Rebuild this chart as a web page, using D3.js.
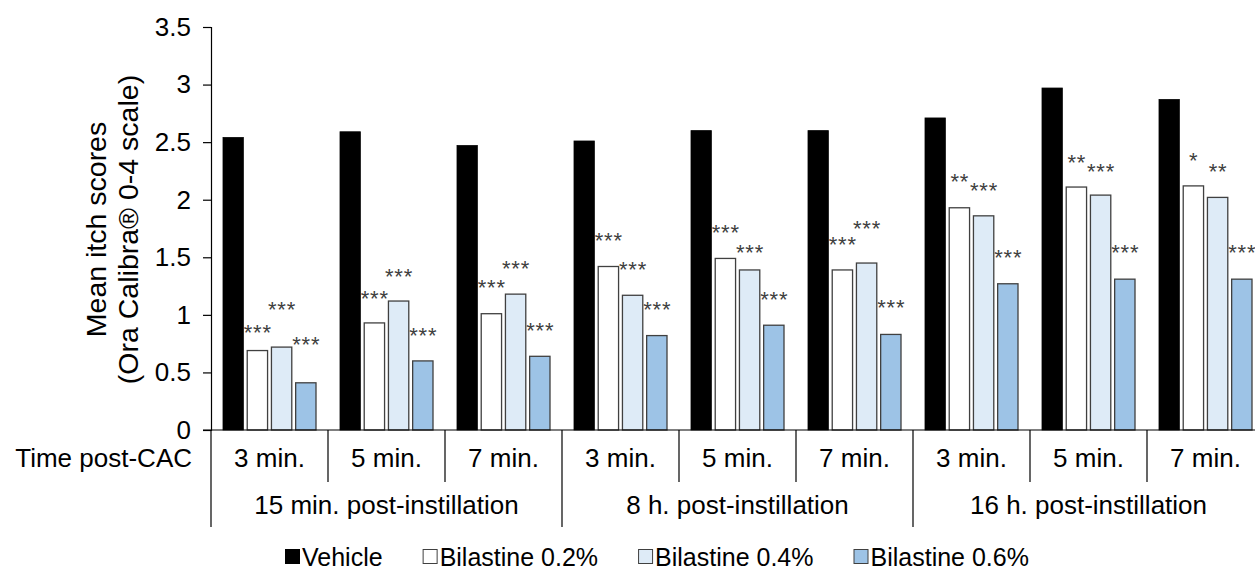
<!DOCTYPE html>
<meta charset="utf-8">
<script src="https://d3js.org/d3.v7.min.js"></script>
<style>
  body { margin: 0; background: #fff; }
  text { font-family: "Liberation Sans", Arial, sans-serif; }
</style>
<div id="chart"></div>
<script>
// ---- data ----
const categories = ["3 min.", "5 min.", "7 min.", "3 min.", "5 min.", "7 min.", "3 min.", "5 min.", "7 min."];
const groups = ["15 min. post-instillation", "8 h. post-instillation", "16 h. post-instillation"];
const seriesNames = ["Vehicle", "Bilastine 0.2%", "Bilastine 0.4%", "Bilastine 0.6%"];

const vehicle = [2.54, 2.59, 2.47, 2.51, 2.60, 2.60, 2.71, 2.97, 2.87];
const bil02 = [0.69, 0.93, 1.01, 1.42, 1.49, 1.39, 1.93, 2.11, 2.12];
const bil04 = [0.72, 1.12, 1.18, 1.17, 1.39, 1.45, 1.86, 2.04, 2.02];
const bil06 = [0.41, 0.60, 0.64, 0.82, 0.91, 0.83, 1.27, 1.31, 1.31];

// significance marks and the height (in score units) where each one sits
const sig02 = ["***", "***", "***", "***", "***", "***", "**", "**", "*"];
const sig04 = ["***", "***", "***", "***", "***", "***", "***", "***", "**"];
const sig06 = ["***", "***", "***", "***", "***", "***", "***", "***", "***"];
const sigAt02 = [0.89, 1.19, 1.28, 1.69, 1.76, 1.66, 2.20, 2.37, 2.39];
const sigAt04 = [1.09, 1.38, 1.45, 1.44, 1.59, 1.80, 2.13, 2.29, 2.29];
const sigAt06 = [0.79, 0.87, 0.91, 1.09, 1.18, 1.11, 1.54, 1.59, 1.59];

const yTicks = [0, 0.5, 1, 1.5, 2, 2.5, 3, 3.5];

const series = [vehicle, bil02, bil04, bil06];
const sigs = [null, sig02, sig04, sig06];
const sigAts = [null, sigAt02, sigAt04, sigAt06];
const fills = ["#000000", "#ffffff", "#deebf7", "#9dc3e6"];

const W = 1255, H = 573;
const axisX = 211, axisY = 430, topY = 27;
const catW = 117;
const fs = 26;

const svg = d3.select("#chart").append("svg")
  .attr("width", W).attr("height", H);

const x = d3.scaleBand()
  .domain(d3.range(categories.length))
  .range([axisX, axisX + catW * categories.length]);

const xs = d3.scaleBand()
  .domain(d3.range(seriesNames.length))
  .range([12, 105])
  .paddingInner(0.16);

const y = d3.scaleLinear().domain([0, 3.5]).range([axisY, topY]);

// y axis
const yAxis = svg.append("g")
  .attr("transform", `translate(${axisX},0)`)
  .call(d3.axisLeft(y).tickValues(yTicks).tickSize(8).tickPadding(12)
    .tickFormat(d3.format("")));
yAxis.select(".domain").attr("stroke", "#000").attr("stroke-width", 1.2);
yAxis.selectAll(".tick line").attr("stroke", "#000").attr("stroke-width", 1.2);
yAxis.selectAll(".tick text").attr("font-size", fs).attr("fill", "#000")
  .style("font-family", "'Liberation Sans', Arial, sans-serif");

// y title
const midY = (axisY + topY) / 2 + 1;
svg.append("text")
  .attr("transform", `translate(106,${midY}) rotate(-90)`)
  .attr("text-anchor", "middle")
  .attr("font-size", 28.5)
  .text("Mean itch scores");
svg.append("text")
  .attr("transform", `translate(138,${midY}) rotate(-90)`)
  .attr("text-anchor", "middle")
  .attr("font-size", 28.5)
  .text("(Ora Calibra® 0-4 scale)");

// bars
const barG = svg.append("g");
series.forEach((vals, s) => {
  barG.selectAll(null)
    .data(vals)
    .join("rect")
    .attr("x", (d, i) => x(i) + xs(s))
    .attr("y", d => y(d))
    .attr("width", xs.bandwidth())
    .attr("height", d => axisY - y(d))
    .attr("fill", fills[s])
    .attr("stroke", s === 0 ? "#000" : "#404040")
    .attr("stroke-width", s === 0 ? 0.8 : 1.3);
});

// significance stars
const starSize = 22, starGap = 0.8;
series.forEach((vals, s) => {
  if (!sigs[s]) return;
  svg.selectAll(null)
    .data(sigs[s])
    .join("text")
    .attr("x", (d, i) => x(i) + xs(s) + xs.bandwidth() / 2 + starGap / 2)
    .attr("y", (d, i) => y(sigAts[s][i]) + starSize * 0.58)
    .attr("text-anchor", "middle")
    .attr("font-size", starSize)
    .attr("letter-spacing", starGap)
    .attr("fill", "#404040")
    .text(d => d);
});

// x axis baseline
svg.append("line")
  .attr("x1", axisX - 8).attr("x2", W)
  .attr("y1", axisY).attr("y2", axisY)
  .attr("stroke", "#000").attr("stroke-width", 1.2);

// category separators
const sepG = svg.append("g");
d3.range(categories.length + 1).forEach(i => {
  const xx = i < categories.length ? x(i) : x.range()[1];
  sepG.append("line")
    .attr("x1", xx).attr("x2", xx)
    .attr("y1", axisY)
    .attr("y2", i % 3 === 0 ? 527 : 482)
    .attr("stroke", "#000").attr("stroke-width", 1.2);
});

// category labels
svg.selectAll(null)
  .data(categories)
  .join("text")
  .attr("x", (d, i) => x(i) + catW / 2)
  .attr("y", 467)
  .attr("text-anchor", "middle")
  .attr("font-size", fs)
  .text(d => d);

svg.append("text")
  .attr("x", 192).attr("y", 467)
  .attr("text-anchor", "end")
  .attr("font-size", fs)
  .text("Time post-CAC");

// group labels
svg.selectAll(null)
  .data(groups)
  .join("text")
  .attr("x", (d, i) => x(i * 3) + catW * 1.5)
  .attr("y", 514)
  .attr("text-anchor", "middle")
  .attr("font-size", fs)
  .text(d => d);

// legend
const legend = svg.append("g").attr("transform", "translate(285,557)");
let lx = 0;
seriesNames.forEach((name, s) => {
  const g = legend.append("g").attr("transform", `translate(${lx},0)`);
  g.append("rect")
    .attr("x", 0.5).attr("y", -7.5)
    .attr("width", 14).attr("height", 14)
    .attr("fill", fills[s])
    .attr("stroke", s === 0 ? "#000" : "#404040")
    .attr("stroke-width", 1);
  const t = g.append("text")
    .attr("x", 17).attr("y", 9)
    .attr("font-size", 25)
    .text(name);
  lx += 17 + t.node().getComputedTextLength() + 40;
});
</script>
